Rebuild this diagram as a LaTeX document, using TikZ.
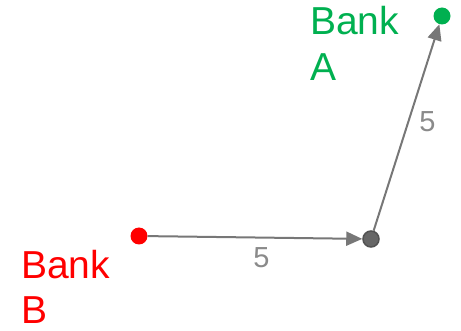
\documentclass[tikz,border=0pt]{standalone}
\usepackage{fontspec}
\setmainfont{Liberation Sans}
\usetikzlibrary{arrows.meta}
\definecolor{BankAClr}{HTML}{00B050}
\definecolor{BankBClr}{HTML}{FF0000}
\definecolor{EdgeClr}{HTML}{777777}
\definecolor{HubClr}{HTML}{666666}
\definecolor{WeightClr}{HTML}{8A8A8A}

\begin{document}
\begin{tikzpicture}[x=1pt,y=-1pt]
\tikzset{
  dot/.style={circle,inner sep=0pt,minimum size=17pt},
  bank/.style={anchor=base west,inner sep=0pt,align=left,
    font=\fontsize{39}{46}\selectfont},
  weight/.style={inner sep=0pt,text=WeightClr,font=\fontsize{29}{32}\selectfont},
  flow/.style={draw=EdgeClr,line width=2pt,-{Triangle[length=16pt,width=14pt]}}
}
\useasboundingbox (0,0) rectangle (461,331);

% vertices
\node[dot,fill=BankBClr] (bankB) at (139,236) {};
\node[dot,fill=HubClr,draw=HubClr!80!black,line width=1.5pt,minimum size=16pt] (hub) at (371,239) {};
\node[dot,fill=BankAClr] (bankA) at (442,16) {};

% names (anchor on the last baseline)
\node[bank,text=BankBClr] (nameB) at (21,324) {Bank\\B};
\node[bank,text=BankAClr] (nameA) at (310,81) {Bank\\A};

% flows
\draw[flow] (bankB) -- (hub) node[weight,pos=.53,below=9pt] (wB) {5};
\draw[flow] (hub) -- (bankA) node[weight,pos=.53,right=10pt] (wA) {5};

\end{tikzpicture}
\end{document}
